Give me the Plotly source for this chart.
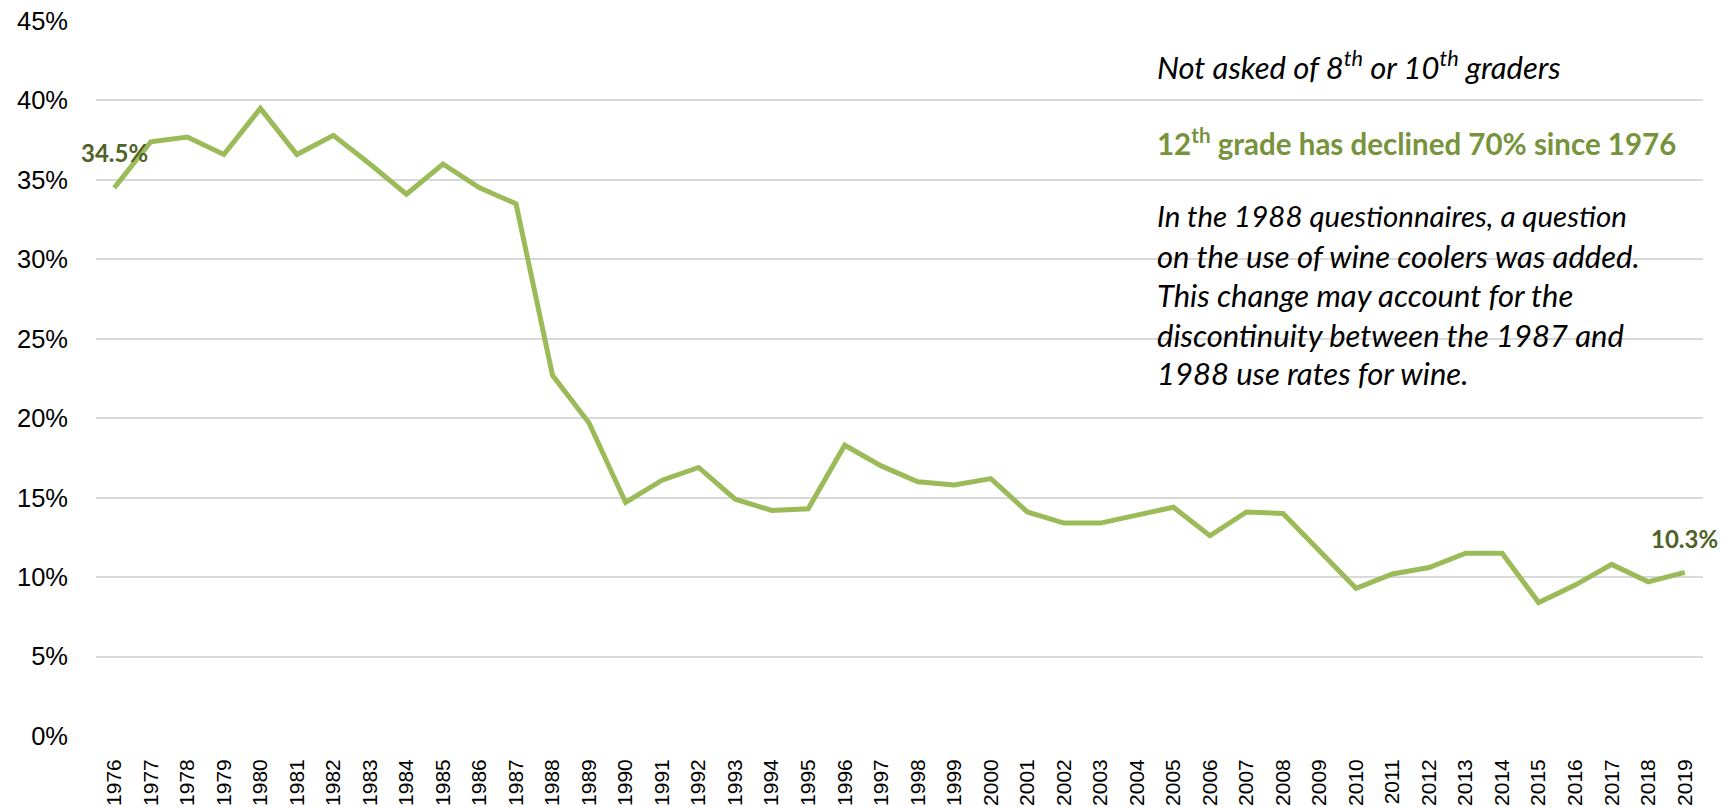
import plotly.graph_objects as go

years = [str(y) for y in range(1976, 2020)]
values = [34.5, 37.4, 37.7, 36.6, 39.5, 36.6, 37.8, 36.0, 34.1, 36.0, 34.5, 33.5,
          22.7, 19.7, 14.7, 16.1, 16.9, 14.9, 14.2, 14.3, 18.3, 17.0, 16.0, 15.8,
          16.2, 14.1, 13.4, 13.4, 13.9, 14.4, 12.6, 14.1, 14.0, 11.6, 9.3, 10.2,
          10.6, 11.5, 11.5, 8.4, 9.5, 10.8, 9.7, 10.3]
ytick_vals = [0, 5, 10, 15, 20, 25, 30, 35, 40, 45]
ytick_text = [f"{v}%" for v in ytick_vals]

note_line1 = "<i>Not asked of 8<sup>th</sup> or 10<sup>th</sup> graders</i>"
note_line2 = "<b>12<sup>th</sup> grade has declined 70% since 1976</b>"
note_para = ["In the 1988 questionnaires, a question",
             "on the use of wine coolers was added.",
             "This change may account for the",
             "discontinuity between the 1987 and",
             "1988 use rates for wine."]

W, H = 1736, 807
L, R, T, B = 96, 33, 21, 71
PW, PH = W - L - R, H - T - B

def px(x):
    return (x - L) / PW

def py(y):
    return (H - B - y) / PH

fig = go.Figure()
fig.add_trace(go.Scatter(x=years, y=values, mode="lines",
                         line=dict(color="#9BBB59", width=5),
                         hoverinfo="x+y"))

ann = []
label_font = dict(family="Lato", size=24, color="#4F6228")
ann.append(dict(x=0, y=values[0], xref="x", yref="y", text=f"<b>{values[0]}%</b>",
                showarrow=False, yshift=35, font=label_font))
ann.append(dict(x=len(years) - 1, y=values[-1], xref="x", yref="y", text=f"<b>{values[-1]}%</b>",
                showarrow=False, yshift=34, font=label_font))

text_font = dict(family="Lato", size=31, color="#000000")
ann.append(dict(x=px(1155), y=py(65), xref="paper", yref="paper", xanchor="left", yanchor="middle",
                text=note_line1, showarrow=False, font=text_font))
ann.append(dict(x=px(1155), y=py(142), xref="paper", yref="paper", xanchor="left", yanchor="middle",
                text=note_line2, showarrow=False,
                font=dict(family="Lato", size=29.5, color="#77933C")))
centers = [216, 256, 295, 335, 373]
sizes = [29.5, 31, 31, 31, 31]
for line, c, s in zip(note_para, centers, sizes):
    ann.append(dict(x=px(1155), y=py(c), xref="paper", yref="paper", xanchor="left",
                    yanchor="middle", text=f"<i>{line}</i>", showarrow=False,
                    font=dict(family="Lato", size=s, color="#000000")))

fig.update_layout(
    width=W, height=H,
    margin=dict(l=L, r=R, t=T, b=B, pad=0, autoexpand=False),
    paper_bgcolor="white", plot_bgcolor="white",
    showlegend=False,
    annotations=ann,
    xaxis=dict(type="category", tickangle=-90, showgrid=False, showline=False, zeroline=False,
               automargin=False,
               tickfont=dict(family="Liberation Sans, Arial", size=21, color="#000000"),
               ticks="", ticklabelstandoff=18, range=[-0.5, len(years) - 0.5]),
    yaxis=dict(range=[0, 45], tickvals=ytick_vals, ticktext=ytick_text, automargin=False,
               showgrid=True, gridcolor="#D9D9D9", gridwidth=1.5, zeroline=False,
               showline=False, ticks="", ticklabelstandoff=27,
               tickfont=dict(family="Liberation Sans, Arial", size=25.5, color="#000000")),
)

fig.write_html("out.html", config={"displayModeBar": False},
               post_script="document.body.style.margin='0';document.body.style.padding='0';"
                           "document.documentElement.style.overflow='hidden';")
